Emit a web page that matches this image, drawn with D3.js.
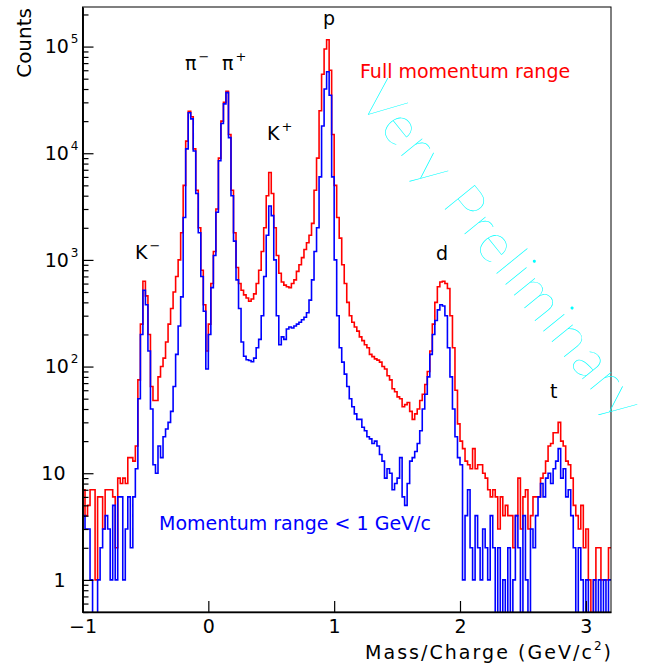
<!DOCTYPE html>
<html>
<head>
<meta charset="utf-8">
<script src="https://cdn.jsdelivr.net/npm/d3@7"></script>
<style>
  body { margin: 0; background: #fff; }
  text { font-family: "DejaVu Sans", "Liberation Sans", sans-serif; }
</style>
</head>
<body>
<div id="chart"></div>
<script>
// histogram binning: 210 bins of 0.02 from -1 to 3.2
const xMin = -1;
const binWidth = 0.02;

// full momentum range (red)
const fullCounts = [
  7, 4, 5, 7, 7, 1, 6, 6, 3, 7,
  7, 7, 6, 2, 9, 8, 9, 8, 14, 14,
  13, 18, 75, 250, 630, 460, 200, 65, 48, 48,
  80, 100, 120, 170, 250, 350, 500, 700, 1000, 1800,
  5000, 13000, 24700, 22000, 11000, 4500, 2000, 800, 380, 140,
  250, 600, 1200, 3000, 9000, 20000, 30000, 38000, 15000, 4500,
  1800, 850, 600, 520, 470, 440, 410, 430, 480, 600,
  800, 1200, 2000, 4000, 6600, 4200, 2000, 1100, 750, 620,
  580, 560, 550, 600, 650, 780, 900, 1050, 1250, 1450,
  1700, 2200, 4500, 9000, 25000, 55000, 95000, 116000, 60000, 15000,
  5000, 2500, 1600, 900, 600, 400, 300, 260, 235, 215,
  190, 175, 160, 150, 130, 124, 118, 115, 110, 100,
  95, 82, 75, 62, 58, 52, 50, 42, 44, 46,
  38, 32, 36, 40, 48, 55, 68, 90, 140, 250,
  400, 560, 620, 630, 600, 540, 300, 150, 60, 29,
  20, 17, 13, 12, 11, 17, 11, 12, 12, 10,
  9, 7, 6, 7, 6, 3, 6, 4, 5, 4,
  4, 2, 4, 9, 3, 6, 7, 3, 4, 6,
  6, 6, 9, 10, 13, 18, 19, 24, 24, 30,
  20, 18, 13, 12, 9, 5, 4, 3, 5, 2,
  3, 1, 0, 1, 2, 2, 1, 1, 1, 2
];

// momentum < 1 GeV/c (blue)
const lowPCounts = [
  4, 3, 3, 1, 0, 0, 1, 2, 3, 4,
  3, 1, 5, 1, 6, 6, 1, 3, 6, 2,
  6, 11, 50, 200, 520, 380, 140, 40, 12, 10,
  18, 14, 22, 26, 30, 38, 65, 130, 240, 450,
  2500, 11000, 24000, 21000, 10500, 4200, 1800, 700, 330, 95,
  200, 550, 1100, 2800, 8500, 19000, 29000, 37000, 14000, 4000,
  1500, 650, 350, 170, 125, 116, 114, 111, 120, 150,
  180, 300, 700, 1700, 3200, 2600, 1000, 300, 160, 190,
  180, 225, 235, 230, 240, 250, 260, 275, 290, 320,
  420, 650, 1200, 2000, 6000, 18000, 40000, 58000, 35000, 6000,
  1000, 300, 150, 110, 85, 65, 50, 42, 36, 32,
  32, 27, 25, 22, 21, 19, 20, 18, 15, 13,
  9, 11, 10, 7, 8, 9, 14, 6, 5, 8,
  13, 14, 16, 19, 25, 40, 55, 80, 130, 200,
  270, 340, 380, 370, 300, 150, 80, 40, 22, 14,
  12, 1, 4, 7, 2, 1, 4, 2, 1, 3,
  2, 1, 4, 2, 0, 2, 0, 1, 0, 2,
  0, 1, 4, 2, 0, 4, 1, 0, 3, 2,
  4, 6, 8, 6, 9, 10, 8, 11, 13, 17,
  9, 11, 6, 7, 4, 2, 0, 2, 1, 0,
  1, 0, 0, 1, 0, 1, 0, 1, 0, 1
];

const xTickValues = [-1, 0, 1, 2, 3];
const yDecades = [1, 10, 100, 1000, 10000, 100000];

// particle labels, placed in data coordinates
const peakLabels = [
  { base: "K", sup: "−", x: -0.583, y: 1030 },
  { base: "π", sup: "−", x: -0.185, y: 60000 },
  { base: "π", sup: "+", x: 0.109, y: 60000 },
  { base: "K", sup: "+", x: 0.466, y: 13400 },
  { base: "p", sup: "", x: 0.911, y: 160000 },
  { base: "d", sup: "", x: 1.809, y: 1000 },
  { base: "t", sup: "", x: 2.715, y: 51 }
];

const margin = { top: 7, right: 49, bottom: 52, left: 82.5 };
const W = 660, H = 664;

const svg = d3.select("#chart").append("svg")
  .attr("width", W)
  .attr("height", H);

const x = d3.scaleLinear().domain([-1, 3.2]).range([margin.left, W - margin.right]);
const y = d3.scaleLog().domain([0.5, 2.35e5]).range([H - margin.bottom, margin.top]);

svg.append("clipPath").attr("id", "frame")
  .append("rect")
  .attr("x", margin.left).attr("y", margin.top)
  .attr("width", W - margin.right - margin.left)
  .attr("height", H - margin.bottom - margin.top);

// step histograms
function histPoints(counts) {
  const pts = counts.map((c, i) => [xMin + i * binWidth, c]);
  pts.push([xMin + counts.length * binWidth, counts[counts.length - 1]]);
  return pts;
}

const step = d3.line()
  .x(d => x(d[0]))
  .y(d => (d[1] > 0 ? y(d[1]) : y.range()[0] + 4))
  .curve(d3.curveStepAfter);

const plot = svg.append("g").attr("clip-path", "url(#frame)");

plot.append("path")
  .datum(histPoints(fullCounts))
  .attr("fill", "none")
  .attr("stroke", "#ff0000")
  .attr("stroke-width", 1.6)
  .attr("d", step);

plot.append("path")
  .datum(histPoints(lowPCounts))
  .attr("fill", "none")
  .attr("stroke", "#0000ff")
  .attr("stroke-width", 1.6)
  .attr("d", step);

// frame
svg.append("rect")
  .attr("x", margin.left).attr("y", margin.top)
  .attr("width", W - margin.right - margin.left)
  .attr("height", H - margin.bottom - margin.top)
  .attr("fill", "none")
  .attr("stroke", "#000")
  .attr("stroke-width", 1);

// y axis: minor and major ticks pointing inwards
const allTicks = y.ticks();
const minorTicks = allTicks.filter(v => !yDecades.includes(v));

const yMinor = svg.append("g")
  .attr("transform", `translate(${margin.left},0)`)
  .call(d3.axisLeft(y).tickValues(minorTicks).tickSizeInner(-6).tickSizeOuter(0).tickFormat(""));
const yMajor = svg.append("g")
  .attr("transform", `translate(${margin.left},0)`)
  .call(d3.axisLeft(y).tickValues(yDecades).tickSizeInner(-11).tickSizeOuter(0).tickFormat(""));
[yMinor, yMajor].forEach(g => {
  g.select(".domain").attr("stroke-width", 1.6);
  g.selectAll(".tick line").attr("stroke-width", 1.2);
});

// y tick labels 1, 10, 10^2 ...
yDecades.forEach(v => {
  const e = Math.round(Math.log10(v));
  const t = svg.append("text")
    .attr("y", y(v))
    .attr("dy", "0.36em")
    .attr("font-size", 19)
    .attr("text-anchor", "end");
  if (e < 2) {
    t.attr("x", margin.left - 17).text(e === 0 ? "1" : "10");
  } else {
    t.attr("x", margin.left - 4);
    t.append("tspan").text("10");
    t.append("tspan").attr("dx", 2).attr("dy", -10).attr("font-size", 12).text(e);
  }
});

// x axis
const xAxis = svg.append("g")
  .attr("transform", `translate(0,${H - margin.bottom})`)
  .call(d3.axisBottom(x).tickValues(xTickValues).tickSizeInner(-11).tickSizeOuter(0)
    .tickPadding(8).tickFormat(d3.format("d")));
xAxis.select(".domain").attr("stroke-width", 1.6);
xAxis.selectAll(".tick line").attr("stroke-width", 1.2);
xAxis.selectAll(".tick text")
  .attr("font-family", "DejaVu Sans, sans-serif")
  .attr("font-size", 19)
  .attr("fill", "#000");

// axis titles
const xTitle = svg.append("text")
  .attr("x", W - margin.right)
  .attr("y", 659)
  .attr("text-anchor", "end")
  .attr("font-size", 19)
  .attr("textLength", 246)
  .attr("lengthAdjust", "spacing");
xTitle.append("tspan").text("Mass/Charge (GeV/c");
xTitle.append("tspan").attr("dy", -9).attr("font-size", 12).text("2");
xTitle.append("tspan").attr("dy", 9).text(")");

svg.append("text")
  .attr("transform", `translate(31,${margin.top + 1}) rotate(-90)`)
  .attr("text-anchor", "end")
  .attr("font-size", 20)
  .text("Counts");

// particle labels
peakLabels.forEach(d => {
  const t = svg.append("text")
    .attr("x", x(d.x))
    .attr("y", y(d.y))
    .attr("font-size", 19);
  t.append("tspan").text(d.base);
  if (d.sup) {
    t.append("tspan").attr("dx", 2).attr("dy", -9).attr("font-size", 13).text(d.sup);
  }
});

// legend texts
svg.append("text")
  .attr("x", x(1.205))
  .attr("y", y(51000))
  .attr("font-size", 19)
  .attr("fill", "#ff0000")
  .text("Full momentum range");

svg.append("text")
  .attr("x", x(-0.392))
  .attr("y", y(2.95))
  .attr("font-size", 19)
  .attr("fill", "#0000ff")
  .text("Momentum range < 1 GeV/c");

// watermark
svg.append("text")
  .attr("transform", "translate(357,101) rotate(51)")
  .style("font-family", "Lato, 'Open Sans', sans-serif")
  .attr("font-size", 55)
  .attr("font-weight", 100)
  .attr("fill", "#00ffff")
  .attr("textLength", 414)
  .attr("lengthAdjust", "spacing")
  .text("Very Preliminary");
</script>
</body>
</html>
